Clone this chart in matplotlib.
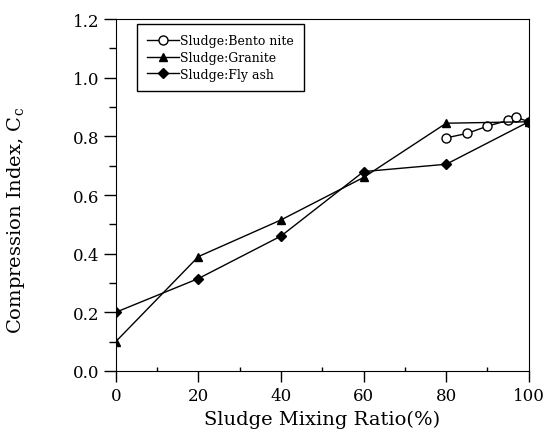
import matplotlib
matplotlib.use('Agg')
import matplotlib.pyplot as plt
from matplotlib.ticker import MultipleLocator

# data
bento_x = [80, 85, 90, 95, 97, 100]
bento_y = [0.795, 0.81, 0.835, 0.855, 0.865, 0.85]
granite_x = [0, 20, 40, 60, 80, 100]
granite_y = [0.10, 0.39, 0.515, 0.66, 0.845, 0.85]
flyash_x = [0, 20, 40, 60, 80, 100]
flyash_y = [0.20, 0.315, 0.46, 0.68, 0.705, 0.85]

plt.rcParams['font.family'] = ['DejaVu Serif']
plt.rcParams['mathtext.fontset'] = 'dejavuserif'

fig = plt.figure(figsize=(5.44, 4.39), dpi=100)
ax = fig.add_axes([0.213, 0.153, 0.759, 0.801])

ax.plot(bento_x, bento_y, '-o', color='black', mfc='white', ms=6.5, lw=1.0,
        label='Sludge:Bento nite')
ax.plot(granite_x, granite_y, '-^', color='black', ms=6, lw=1.0,
        label='Sludge:Granite')
ax.plot(flyash_x, flyash_y, '-D', color='black', ms=5, lw=1.0,
        label='Sludge:Fly ash')

ax.set_xlim(0, 100)
ax.set_ylim(0, 1.2)
ax.xaxis.set_major_locator(MultipleLocator(20))
ax.xaxis.set_minor_locator(MultipleLocator(10))
ax.yaxis.set_major_locator(MultipleLocator(0.2))
ax.yaxis.set_minor_locator(MultipleLocator(0.1))
ax.yaxis.set_major_formatter(plt.FormatStrFormatter('%.1f'))

ax.tick_params(axis='x', which='major', direction='out', length=8, width=1, labelsize=12, pad=4)
ax.tick_params(axis='x', which='minor', direction='in', length=3, width=1)
ax.tick_params(axis='y', which='major', direction='out', length=9, width=1, labelsize=12, pad=3)
ax.tick_params(axis='y', which='minor', direction='out', length=5, width=1)

ax.set_xlabel('Sludge Mixing Ratio(%)', fontsize=14, labelpad=4)
ax.set_ylabel('Compression Index, C$_\\mathrm{c}$', fontsize=14)
ax.yaxis.set_label_coords(-0.215, 0.43)

leg = ax.legend(loc='upper left', bbox_to_anchor=(0.045, 0.993), fontsize=9,
                frameon=True, fancybox=False, edgecolor='black', framealpha=1,
                handlelength=2.6, handletextpad=0.05, borderpad=0.8, labelspacing=0.3,
                borderaxespad=0.2)
leg.get_frame().set_linewidth(1.0)

fig.savefig('out.png', dpi=100)
